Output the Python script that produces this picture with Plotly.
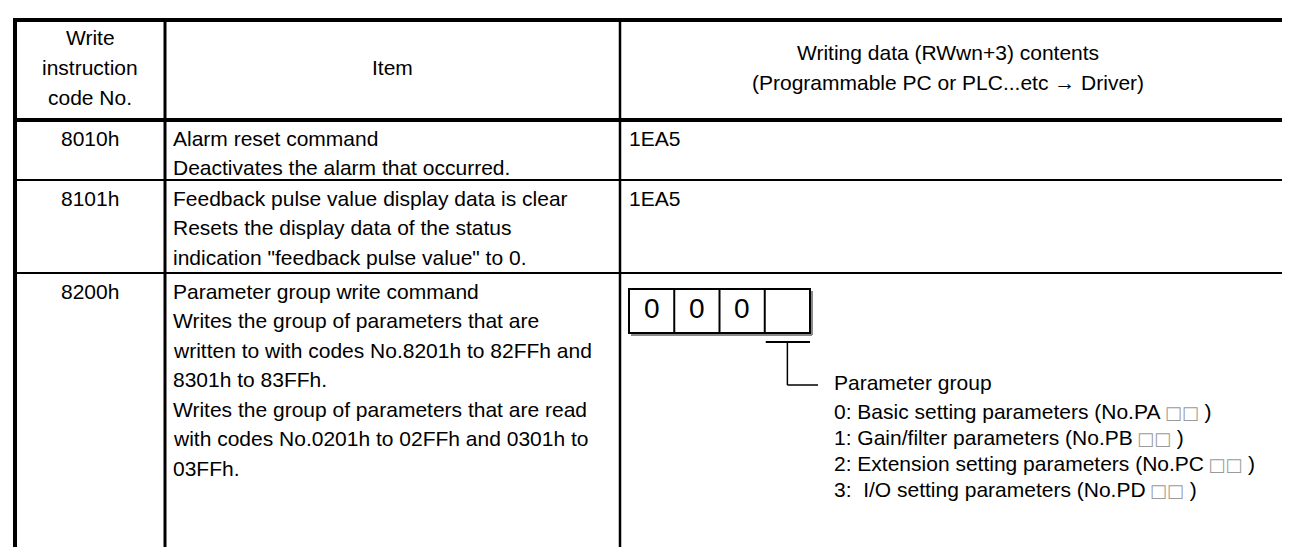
import plotly.graph_objects as go

# ---------------- data ----------------
header_code = ["Write", "instruction", "code No."]
header_item = ["Item"]
header_content = ["Writing data (RWwn+3) contents",
                  "(Programmable PC or PLC...etc \u2192 Driver)"]

codes = ["8010h", "8101h", "8200h"]
items = [
    ["Alarm reset command",
     "Deactivates the alarm that occurred."],
    ["Feedback pulse value display data is clear",
     "Resets the display data of the status",
     'indication "feedback pulse value" to 0.'],
    ["Parameter group write command",
     "Writes the group of parameters that are",
     "written to with codes No.8201h to 82FFh and",
     "8301h to 83FFh.",
     "Writes the group of parameters that are read",
     "with codes No.0201h to 02FFh and 0301h to",
     "03FFh."],
]
contents = ["1EA5", "1EA5", ""]

digit_cells = ["0", "0", "0", ""]
group_title = "Parameter group"
group_labels = ["0: Basic setting parameters (No.PA", "1: Gain/filter parameters (No.PB",
                "2: Extension setting parameters (No.PC", "3:  I/O setting parameters (No.PD"]

# ---------------- layout constants ----------------
W, H = 1290, 547
FONT = "Liberation Sans, Arial, sans-serif"
FS = 21
LS = 29.5
DY = -4  # text vertical correction
X_LEFT, X_C1, X_C2, X_RIGHT = 7, 157, 612, 1300
Y_TOP, Y_HEAD = 12, 112
row_tops = [112, 172, 265]

shapes = []
ann = []


def line(x0, y0, x1, y1, w=2, c="black"):
    shapes.append(dict(type="line", xref="x", yref="y", x0=x0, y0=y0, x1=x1, y1=y1,
                       line=dict(color=c, width=w)))


def text(x, y, t, anchor="left", size=FS, color="black"):
    ann.append(dict(x=x, y=y + DY, xref="x", yref="y", text=t, showarrow=False,
                    xanchor=anchor, yanchor="middle",
                    font=dict(family=FONT, size=size, color=color)))


# grid
line(X_LEFT - 2, Y_TOP, X_RIGHT, Y_TOP, 4)
line(X_LEFT - 2, Y_HEAD, X_RIGHT, Y_HEAD, 4)
for yt in row_tops[1:]:
    line(X_LEFT, yt, X_RIGHT, yt, 2)
line(X_LEFT, Y_TOP - 2, X_LEFT, H + 5, 4)
line(X_C1, Y_TOP, X_C1, H + 5, 3)
line(X_C2, Y_TOP, X_C2, H + 5, 2.5)

# header
cx1 = (X_LEFT + X_C1) / 2
cx2 = (X_C1 + X_C2) / 2
cx3 = 940
hc = (Y_TOP + Y_HEAD) / 2 + 1
for i, t in enumerate(header_code):
    text(cx1, hc + (i - 1) * 30, t, "center")
text(cx2, hc, header_item[0], "center")
for i, t in enumerate(header_content):
    text(cx3, hc + (i - 0.5) * 30, t, "center")

# rows
for r, (code, lines, cont) in enumerate(zip(codes, items, contents)):
    y0 = row_tops[r] + 22
    text(cx1, y0, code, "center")
    for k, t in enumerate(lines):
        text(X_C1 + 6, y0 + k * LS, t)
    if cont:
        text(X_C2 + 7, y0, cont)

# digit box
bx0, bx1, by0, by1 = 621, 802, 281, 325
cw = (bx1 - bx0) / len(digit_cells)
line(bx0 + 2, by1 + 2, bx1 + 2, by1 + 2, 2, "#8a8a8a")
line(bx1 + 2, by0 + 2, bx1 + 2, by1 + 2, 2, "#8a8a8a")
shapes.append(dict(type="rect", xref="x", yref="y", x0=bx0, y0=by0, x1=bx1, y1=by1,
                   line=dict(color="black", width=2)))
for i, d in enumerate(digit_cells):
    if i > 0:
        line(bx0 + i * cw, by0, bx0 + i * cw, by1, 2)
    if d:
        text(bx0 + (i + 0.5) * cw, (by0 + by1) / 2 + 1, d, "center", 28)

# bracket
last = bx0 + 3 * cw
bxm = last + cw / 2
line(last + 1, 334, bx1, 334, 2)
line(bxm, 334, bxm, 377, 1.5)
line(bxm, 377, 810, 377, 1.5)

text(824, 378, group_title)
sq = ("\u2009<span style='color:#9a9a9a;font-family:DejaVu Sans;font-size:18px'>"
      "\u25a1\u25a1</span> )")
for i, g in enumerate(group_labels):
    text(824, 407 + i * 26, g + sq)

fig = go.Figure()
fig.update_layout(
    width=W, height=H, margin=dict(l=0, r=0, t=0, b=0),
    paper_bgcolor="white", plot_bgcolor="white",
    xaxis=dict(range=[0, W], visible=False, fixedrange=True),
    yaxis=dict(range=[H, 0], visible=False, fixedrange=True),
    shapes=shapes, annotations=ann, showlegend=False,
)
fig.write_html("out.html")
